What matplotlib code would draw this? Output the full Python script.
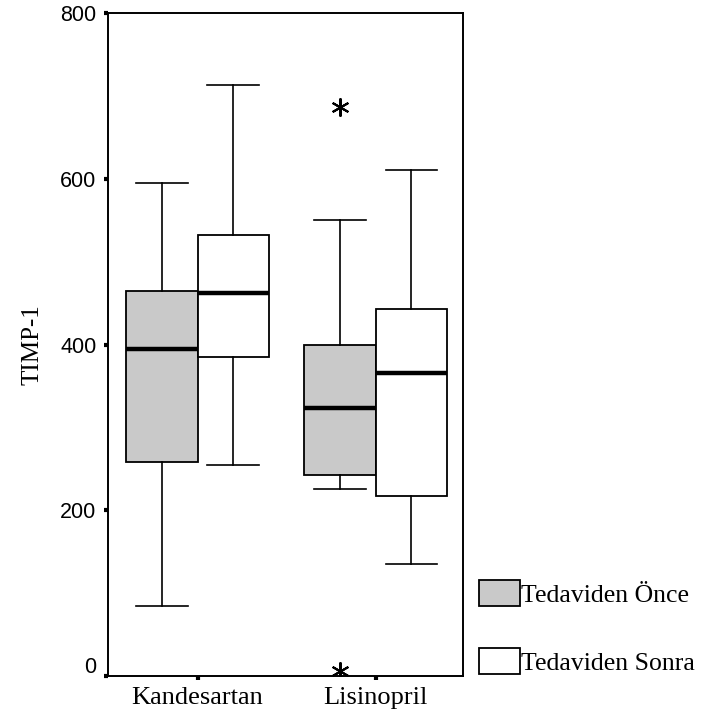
import numpy as np
import matplotlib.pyplot as plt
from matplotlib.patches import Patch
from matplotlib.transforms import ScaledTranslation

# values
groups = ["Kandesartan", "Lisinopril"]
series = ["Tedaviden Önce", "Tedaviden Sonra"]

once_whislo = [84, 226]
once_q1 = [258, 243]
once_med = [395, 323]
once_q3 = [465, 400]
once_whishi = [595, 550]
once_fliers = [[], [687, 6]]

sonra_whislo = [255, 135]
sonra_q1 = [385, 217]
sonra_med = [462, 366]
sonra_q3 = [532, 443]
sonra_whishi = [713, 611]
sonra_fliers = [[], []]

yticks = [0, 200, 400, 600, 800]
colors = ["#c9c9c9", "white"]


def make_stats(lo, q1, med, q3, hi, fl):
    return [dict(whislo=a, q1=b, med=c, q3=d, whishi=e, fliers=f)
            for a, b, c, d, e, f in zip(lo, q1, med, q3, hi, fl)]


stats = [
    make_stats(once_whislo, once_q1, once_med, once_q3, once_whishi, once_fliers),
    make_stats(sonra_whislo, sonra_q1, sonra_med, sonra_q3, sonra_whishi, sonra_fliers),
]

fig = plt.figure(figsize=(7.05, 7.2), dpi=100)
ax = fig.add_axes([0.1525, 0.0611, 0.5043, 0.9204])

x = np.arange(1, len(groups) + 1)
w = 0.4
for i, st in enumerate(stats):
    pos = x + (i - 0.5) * w
    ax.bxp(st, positions=pos, widths=w, patch_artist=True, showfliers=True,
           boxprops=dict(facecolor=colors[i], edgecolor="black", linewidth=1.3),
           medianprops=dict(color="black", linewidth=3.2, solid_capstyle="butt"),
           whiskerprops=dict(color="black", linewidth=1.2),
           capprops=dict(color="black", linewidth=1.2),
           capwidths=w * 0.72,
           flierprops=dict(marker=(6, 2, 0), markersize=13, markeredgecolor="black",
                           markeredgewidth=1.5, linestyle="none"),
           manage_ticks=False)

ax.set_xlim(0.495, 2.49)
ax.set_ylim(0, 800)
ax.set_xticks(x)
ax.set_xticklabels(groups, fontfamily="Liberation Serif", fontsize=19)
ax.set_yticks(yticks)
ax.set_yticklabels([str(v) for v in yticks], fontfamily="Liberation Sans", fontsize=15.5)
ax.tick_params(axis="both", direction="out", length=3, width=3, pad=5)
for sp in ax.spines.values():
    sp.set_linewidth(1.4)

# the "0" label sits a bit above its tick in the reference
lab0 = ax.get_yticklabels()[0]
lab0.set_transform(lab0.get_transform() + ScaledTranslation(0, 8 / 72, fig.dpi_scale_trans))

ax.set_ylabel("TIMP-1", fontfamily="Liberation Serif", fontsize=18, labelpad=12)

handles = [Patch(facecolor=colors[i], edgecolor="black", linewidth=1.3) for i in range(2)]
fig.legend(handles, series, loc="upper left", bbox_to_anchor=(479 / 705, 1 - 580 / 720),
           frameon=False, prop=dict(family="Liberation Serif", size=18.5),
           handlelength=1.6, handleheight=1.2, handletextpad=0.05,
           labelspacing=1.6, borderpad=0, borderaxespad=0)

fig.savefig("out.png", dpi=100)
